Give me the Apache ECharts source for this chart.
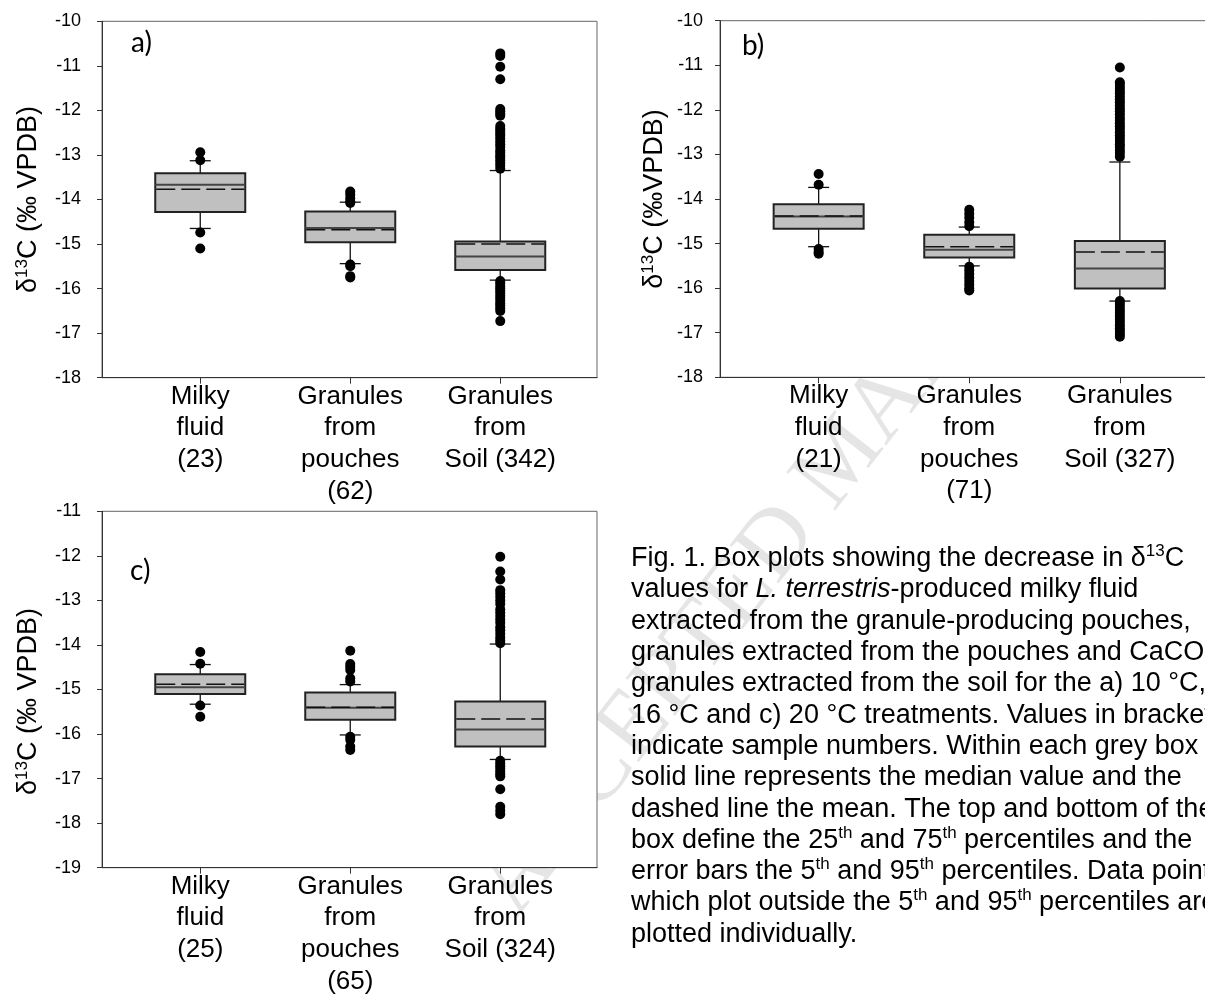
<!DOCTYPE html>
<html>
<head>
<meta charset="utf-8">
<script src="https://cdn.jsdelivr.net/npm/echarts@6/dist/echarts.min.js"></script>
<style>
html,body{margin:0;padding:0;background:#fff;}
#chart{width:1205px;height:1000px;}
</style>
</head>
<body>
<div id="chart"></div>
<script>
// ---------- categories ----------
const catA = ['Milky\nfluid\n(23)', 'Granules\nfrom\npouches\n(62)', 'Granules\nfrom\nSoil (342)'];
const catB = ['Milky\nfluid\n(21)', 'Granules\nfrom\npouches\n(71)', 'Granules\nfrom\nSoil (327)'];
const catC = ['Milky\nfluid\n(25)', 'Granules\nfrom\npouches\n(65)', 'Granules\nfrom\nSoil (324)'];

// ---------- panel a (10 °C) ----------
const aLow    = [-14.65, -15.44, -15.81];
const aQ1     = [-14.28, -14.96, -15.58];
const aMedian = [-13.67, -14.64, -15.28];
const aQ3     = [-13.41, -14.27, -14.94];
const aHigh   = [-13.13, -14.06, -13.35];
const aMean   = [-13.77, -14.68, -15.00];
const aOutMilky   = [-12.94, -13.12, -14.74, -15.10];
const aOutPouches = [-13.82, -13.89, -13.97, -14.04, -14.08, -15.46, -15.50, -15.72, -15.75];
const aOutSoil    = [-10.72, -10.78, -11.02, -11.30, -11.97, -12.02, -12.07, -12.12, -12.35, -12.41,
                     -12.46, -12.52, -12.57, -12.63, -12.70, -12.76, -12.82, -12.90, -12.95, -13.01,
                     -13.06, -13.12, -13.18, -13.24, -13.31, -15.83, -15.88, -15.94, -15.99, -16.05,
                     -16.10, -16.16, -16.21, -16.27, -16.33, -16.38, -16.44, -16.50, -16.73];

// ---------- panel b (16 °C) ----------
const bLow    = [-15.07, -15.50, -16.29];
const bQ1     = [-14.67, -15.31, -16.01];
const bMedian = [-14.39, -15.14, -15.56];
const bQ3     = [-14.12, -14.80, -14.94];
const bHigh   = [-13.74, -14.63, -13.17];
const bMean   = [-14.38, -15.07, -15.19];
const bOutMilky   = [-13.44, -13.68, -15.12, -15.19, -15.23];
const bOutPouches = [-14.24, -14.33, -14.42, -14.52, -14.61, -15.52, -15.60, -15.68, -15.76, -15.84,
                     -15.92, -16.00, -16.05];
const bOutSoil    = [-11.05, -11.38, -11.44, -11.51, -11.57, -11.63, -11.70, -11.77, -11.83, -11.90,
                     -11.97, -12.03, -12.10, -12.17, -12.23, -12.30, -12.37, -12.43, -12.50, -12.57,
                     -12.63, -12.70, -12.77, -12.83, -12.90, -12.97, -13.05, -16.29, -16.35, -16.42,
                     -16.49, -16.55, -16.62, -16.69, -16.76, -16.83, -16.90, -16.96, -17.03, -17.09];

// ---------- panel c (20 °C) ----------
const cLow    = [-15.33, -16.02, -16.57];
const cQ1     = [-15.10, -15.68, -16.28];
const cMedian = [-14.95, -15.41, -15.90];
const cQ3     = [-14.66, -15.07, -15.27];
const cHigh   = [-14.44, -14.89, -13.98];
const cMean   = [-14.88, -15.40, -15.66];
const cOutMilky   = [-14.16, -14.42, -15.36, -15.61];
const cOutPouches = [-14.13, -14.43, -14.49, -14.56, -14.75, -14.82, -16.06, -16.13, -16.28, -16.36];
const cOutSoil    = [-12.02, -12.35, -12.53, -12.77, -12.84, -12.92, -13.00, -13.08, -13.20, -13.27,
                     -13.35, -13.43, -13.50, -13.60, -13.67, -13.75, -13.83, -13.90, -13.96, -16.60,
                     -16.66, -16.72, -16.78, -16.84, -16.90, -16.95, -17.24, -17.63, -17.72, -17.80];

// ---------- axis ranges / ticks ----------
const yRangeA = [-18, -10];
const yRangeB = [-18, -10];
const yRangeC = [-19, -11];
const xPositions = [1, 2, 3];

const captionLines = [
  'Fig. 1. Box plots showing the decrease in \u03b4{sup|13}C',
  'values for {i|L. terrestris}-produced milky fluid',
  'extracted from the granule-producing pouches,',
  'granules extracted from the pouches and CaCO{sub|3}',
  'granules extracted from the soil for the a) 10 \u00b0C, b)',
  '16 \u00b0C and c) 20 \u00b0C treatments. Values in brackets',
  'indicate sample numbers. Within each grey box the',
  'solid line represents the median value and the',
  'dashed line the mean. The top and bottom of the',
  'box define the 25{sup|th} and 75{sup|th} percentiles and the',
  'error bars the 5{sup|th} and 95{sup|th} percentiles. Data points',
  'which plot outside the 5{sup|th} and 95{sup|th} percentiles are',
  'plotted individually.'
];

// ---------- helpers ----------
const SANS = '"Liberation Sans", Arial, sans-serif';

function boxData(low, q1, med, q3, high, mean) {
  return xPositions.map((x, i) => [x, low[i], q1[i], med[i], q3[i], high[i], mean[i]]);
}
function outlierData(groups) {
  const out = [];
  groups.forEach((arr, i) => arr.forEach(v => out.push([xPositions[i], v])));
  return out;
}
function renderBox(params, api) {
  const x = api.value(0);
  const pLow = api.coord([x, api.value(1)]);
  const pQ1 = api.coord([x, api.value(2)]);
  const pMed = api.coord([x, api.value(3)]);
  const pQ3 = api.coord([x, api.value(4)]);
  const pHigh = api.coord([x, api.value(5)]);
  const pMean = api.coord([x, api.value(6)]);
  const cx = pMed[0];
  const hw = 45, cw = 10.5;
  const wStyle = {stroke: '#111', lineWidth: 1.3};
  return {
    type: 'group',
    children: [
      {type: 'line', shape: {x1: cx, y1: pHigh[1], x2: cx, y2: pQ3[1]}, style: wStyle},
      {type: 'line', shape: {x1: cx, y1: pQ1[1], x2: cx, y2: pLow[1]}, style: wStyle},
      {type: 'line', shape: {x1: cx - cw, y1: pHigh[1], x2: cx + cw, y2: pHigh[1]}, style: wStyle},
      {type: 'line', shape: {x1: cx - cw, y1: pLow[1], x2: cx + cw, y2: pLow[1]}, style: wStyle},
      {type: 'rect', shape: {x: cx - hw, y: pQ3[1], width: 2 * hw, height: pQ1[1] - pQ3[1]},
       style: {fill: '#c0c0c0', stroke: '#222', lineWidth: 2}},
      {type: 'line', shape: {x1: cx - hw, y1: pMed[1], x2: cx + hw, y2: pMed[1]},
       style: {stroke: '#444', lineWidth: 2}},
      {type: 'line', shape: {x1: cx - hw + 1, y1: pMean[1], x2: cx + hw - 1, y2: pMean[1]},
       style: {stroke: '#111', lineWidth: 1.5, lineDash: [19, 6]}}
    ]
  };
}

function makeGrid(left, top, width, height) {
  return {left, top, width, height, show: true, backgroundColor: '#fff',
          borderColor: '#666', borderWidth: 1, containLabel: false, outerBoundsMode: 'none'};
}
function makeX(idx, cats) {
  return {
    type: 'value', gridIndex: idx, min: 0.345, max: 3.645,
    axisLine: {show: true, onZero: false, lineStyle: {color: '#333', width: 1}},
    axisTick: {show: true, customValues: xPositions, length: 6, lineStyle: {color: '#333'}},
    axisLabel: {show: true, customValues: xPositions, margin: 3,
                formatter: v => cats[Math.round(v) - 1] || '',
                fontSize: 26, lineHeight: 31.7, fontFamily: SANS, color: '#000', align: 'center'},
    splitLine: {show: false}, minorTick: {show: false}
  };
}
function makeY(idx, range, name, margin, gap, pad) {
  return {
    type: 'value', gridIndex: idx, min: range[0], max: range[1], interval: 1,
    axisLine: {show: true, onZero: false, lineStyle: {color: '#333', width: 1}},
    axisTick: {show: true, length: 5, lineStyle: {color: '#333'}},
    axisLabel: {fontSize: 18, fontFamily: SANS, color: '#000', margin: margin},
    splitLine: {show: false},
    name: name, nameLocation: 'middle', nameRotate: 90, nameGap: gap,
    nameTextStyle: {fontSize: 27, fontFamily: SANS, color: '#000', lineHeight: 30, padding: pad,
      rich: {sup: {fontSize: 17, fontFamily: SANS, color: '#000', lineHeight: 19, verticalAlign: 'top'}}}
  };
}

const chart = echarts.init(document.getElementById('chart'), null, {renderer: 'canvas'});

const seriesList = [];
[[aLow, aQ1, aMedian, aQ3, aHigh, aMean, [aOutMilky, aOutPouches, aOutSoil]],
 [bLow, bQ1, bMedian, bQ3, bHigh, bMean, [bOutMilky, bOutPouches, bOutSoil]],
 [cLow, cQ1, cMedian, cQ3, cHigh, cMean, [cOutMilky, cOutPouches, cOutSoil]]].forEach((p, i) => {
  seriesList.push({
    type: 'custom', xAxisIndex: i, yAxisIndex: i, z: 3,
    renderItem: renderBox,
    encode: {x: 0, y: [1, 2, 3, 4, 5, 6]},
    data: boxData(p[0], p[1], p[2], p[3], p[4], p[5])
  });
  seriesList.push({
    type: 'scatter', xAxisIndex: i, yAxisIndex: i, z: 5,
    symbol: 'circle', symbolSize: 10,
    itemStyle: {color: '#000', opacity: 1},
    data: outlierData(p[6])
  });
});

const labelStyle = (t) => ({text: t, font: '28px Lato, sans-serif', fill: '#000',
  align: 'left', verticalAlign: 'middle', textAlign: 'left', textVerticalAlign: 'middle'});

const option = {
  animation: false,
  backgroundColor: '#fff',
  grid: [
    makeGrid(102, 21.3, 495, 356.4),
    makeGrid(720, 20.7, 497, 356.6),
    makeGrid(102, 511.3, 495, 356.4)
  ],
  xAxis: [makeX(0, catA), makeX(1, catB), makeX(2, catC)],
  yAxis: [
    makeY(0, yRangeA, '\u03b4{sup|13}C (\u2030 VPDB)', 21, 58, [0, 0, 0, 0]),
    makeY(1, yRangeB, '\u03b4{sup|13}C (\u2030VPDB)', 17, 50, [0, 0, 0, 0]),
    makeY(2, yRangeC, '\u03b4{sup|13}C (\u2030 VPDB)', 21, 58, [0, 24, 0, 0])
  ],
  series: seriesList,
  graphic: [
    {type: 'text', x: 844, y: 459, rotation: 52 * Math.PI / 180, z: -10, silent: true,
     style: {text: 'ACCEPTED MANUSCRIPT', font: '95px "Liberation Serif", serif',
             fill: 'rgba(0,0,0,0.1)', align: 'center', verticalAlign: 'middle',
             textAlign: 'center', textVerticalAlign: 'middle'}},
    {type: 'rect', z: -5, silent: true, shape: {x: 690, y: 0, width: 515, height: 20},
     style: {fill: '#fff'}},
    {type: 'text', x: 131, y: 43, z: 20, style: labelStyle('a)')},
    {type: 'text', x: 742, y: 46, z: 20, style: labelStyle('b)')},
    {type: 'text', x: 130, y: 571, z: 20, style: labelStyle('c)')},
    {type: 'text', x: 631, y: 543, z: 20,
     style: {text: captionLines.join('\n'), font: '27px ' + SANS, fill: '#000', lineHeight: 31.3,
             align: 'left', verticalAlign: 'top', textAlign: 'left', textVerticalAlign: 'top',
             rich: {
               sup: {font: '17px ' + SANS, fill: '#000', lineHeight: 19, verticalAlign: 'top'},
               sub: {font: '17px ' + SANS, fill: '#000', lineHeight: 15, verticalAlign: 'bottom'},
               i: {font: 'italic 27px ' + SANS, fill: '#000', lineHeight: 31.3}
             }}}
  ]
};
chart.setOption(option);
</script>
</body>
</html>
